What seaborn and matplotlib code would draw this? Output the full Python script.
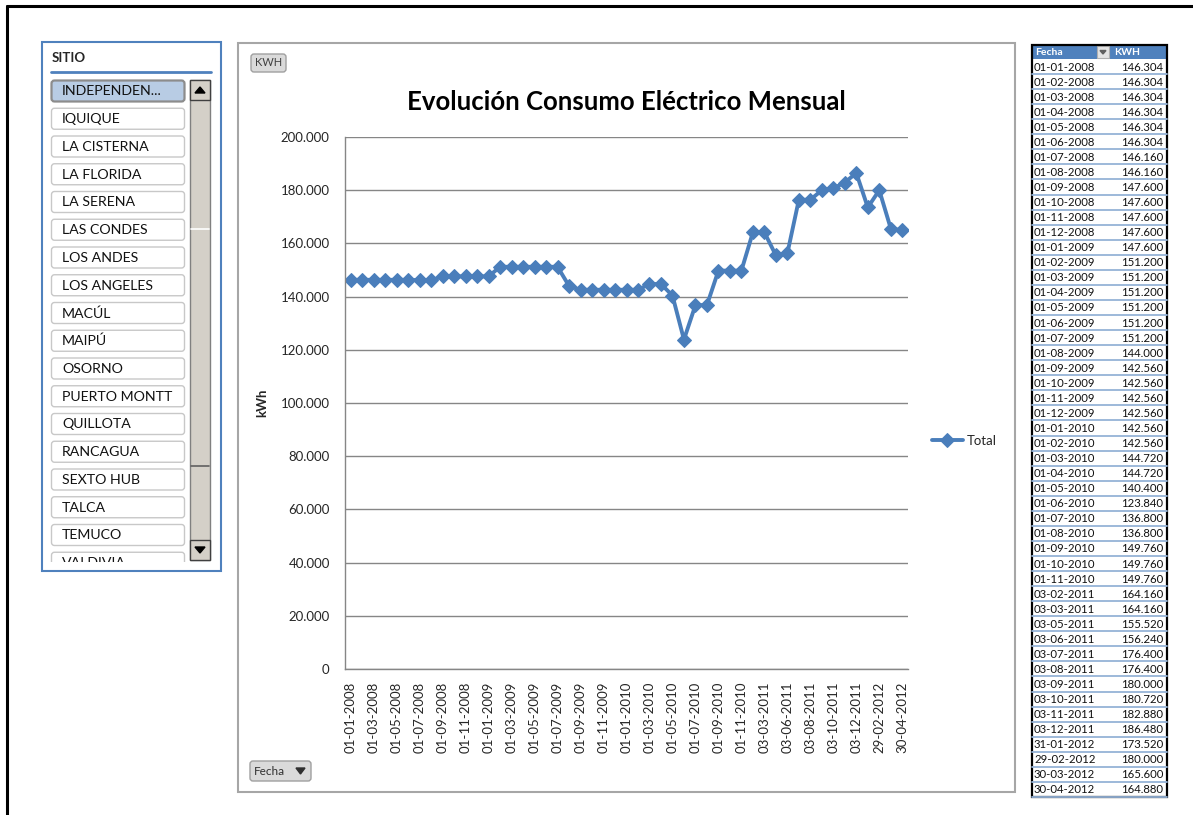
import numpy as np
import pandas as pd
import matplotlib
matplotlib.use("Agg")
import matplotlib.pyplot as plt
from matplotlib.patches import Rectangle, FancyBboxPatch, Polygon
from matplotlib.ticker import FuncFormatter, FixedLocator
import seaborn as sns

# ---- data -------------------------------------------------------------
fechas = [
    "01-01-2008", "01-02-2008", "01-03-2008", "01-04-2008", "01-05-2008", "01-06-2008",
    "01-07-2008", "01-08-2008", "01-09-2008", "01-10-2008", "01-11-2008", "01-12-2008",
    "01-01-2009", "01-02-2009", "01-03-2009", "01-04-2009", "01-05-2009", "01-06-2009",
    "01-07-2009", "01-08-2009", "01-09-2009", "01-10-2009", "01-11-2009", "01-12-2009",
    "01-01-2010", "01-02-2010", "01-03-2010", "01-04-2010", "01-05-2010", "01-06-2010",
    "01-07-2010", "01-08-2010", "01-09-2010", "01-10-2010", "01-11-2010",
    "03-02-2011", "03-03-2011", "03-05-2011", "03-06-2011", "03-07-2011", "03-08-2011",
    "03-09-2011", "03-10-2011", "03-11-2011", "03-12-2011",
    "31-01-2012", "29-02-2012", "30-03-2012", "30-04-2012",
]
kwh = [
    146304, 146304, 146304, 146304, 146304, 146304,
    146160, 146160, 147600, 147600, 147600, 147600,
    147600, 151200, 151200, 151200, 151200, 151200,
    151200, 144000, 142560, 142560, 142560, 142560,
    142560, 142560, 144720, 144720, 140400, 123840,
    136800, 136800, 149760, 149760, 149760,
    164160, 164160, 155520, 156240, 176400, 176400,
    180000, 180720, 182880, 186480,
    173520, 180000, 165600, 164880,
]
sitios = [
    "INDEPENDEN...", "IQUIQUE", "LA CISTERNA", "LA FLORIDA", "LA SERENA",
    "LAS CONDES", "LOS ANDES", "LOS ANGELES", "MACÚL", "MAIPÚ", "OSORNO",
    "PUERTO MONTT", "QUILLOTA", "RANCAGUA", "SEXTO HUB", "TALCA", "TEMUCO",
    "VALDIVIA",
]
titulo = "Evolución Consumo Eléctrico Mensual"

df = pd.DataFrame({"Fecha": fechas, "KWH": kwh})
df["pos"] = np.arange(len(df))

# ---- figure -----------------------------------------------------------
sns.set_theme(style="white")
plt.rcParams["font.family"] = ["Lato", "DejaVu Sans"]

W, H = 1193, 815
fig = plt.figure(figsize=(W / 100, H / 100), dpi=100)
fig.patch.set_facecolor("white")


def pixel_axes(x0, y0, x1, y1, z):
    """Axes covering a pixel box, with data units equal to figure pixels."""
    a = fig.add_axes([x0 / W, 1 - y1 / H, (x1 - x0) / W, (y1 - y0) / H], zorder=z)
    a.set_xlim(x0, x1)
    a.set_ylim(y1, y0)
    a.axis("off")
    a.patch.set_visible(False)
    return a


bg = pixel_axes(0, 0, W, H, 0)

# sheet frame
bg.plot([7, W], [6, 6], color="black", lw=2.2)
bg.plot([7, 7], [6, H], color="black", lw=2.2)

# ---- slicer "SITIO" -------------------------------------------------------
blue = "#4F81BD"
bg.add_patch(Rectangle((42, 42), 179, 529, facecolor="white", edgecolor=blue, lw=1.5))
bg.text(52, 58, "SITIO", fontsize=9.5, fontweight="bold", va="center", ha="left")
bg.plot([51, 211], [72, 72], color=blue, lw=2)

# list of items, clipped at the bottom of the visible window
sl = pixel_axes(44, 76, 219, 562, 1)
for i, name in enumerate(sitios):
    top = 80 + i * 27.75
    sel = i == 0
    box = FancyBboxPatch((51.5, top + 0.5), 133, 21,
                         boxstyle="round,pad=0,rounding_size=3",
                         facecolor="#B8CCE4" if sel else "white",
                         edgecolor="#8C8C8C" if sel else "#C8C8C8",
                         lw=1.6 if sel else 1.0, clip_on=True)
    sl.add_patch(box)
    sl.text(62, top + 11.5, name, fontsize=10.2, va="center", ha="left",
            color="#111111", clip_on=True)

# scrollbar
bg.add_patch(Rectangle((190, 80), 20, 480, facecolor="#D4D0C8", edgecolor="#808080", lw=1, zorder=3))
bg.plot([191, 209], [229, 229], color="white", lw=1.2, zorder=4)
bg.plot([191, 209], [466, 466], color="#606060", lw=1.2, zorder=4)
for ytop, up in [(80, True), (540, False)]:
    bg.add_patch(Rectangle((190, ytop), 20, 20, facecolor="#D4D0C8", edgecolor="#404040", lw=1, zorder=4))
    cy = ytop + 10
    if up:
        tri = [(195, cy + 3), (205, cy + 3), (200, cy - 3)]
    else:
        tri = [(195, cy - 3), (205, cy - 3), (200, cy + 3)]
    bg.add_patch(Polygon(tri, closed=True, facecolor="black", edgecolor="black", zorder=5))

# ---- chart area -------------------------------------------------------
bg.add_patch(Rectangle((238, 43), 777, 749, facecolor="white", edgecolor="#A6A6A6", lw=1.5))
bg.add_patch(FancyBboxPatch((251, 54), 35, 18, boxstyle="round,pad=0,rounding_size=3",
                            facecolor="#DADADA", edgecolor="#A0A0A0", lw=1))
bg.text(268.5, 63, "KWH", fontsize=8, color="#404040", ha="center", va="center")
bg.add_patch(FancyBboxPatch((250, 761), 61, 20, boxstyle="round,pad=0,rounding_size=3",
                            facecolor="#DADADA", edgecolor="#A0A0A0", lw=1))
bg.text(254, 771.5, "Fecha", fontsize=8.5, color="#303030", ha="left", va="center")
bg.add_patch(Polygon([(296, 768), (305, 768), (300.5, 774)], closed=True,
                     facecolor="#303030", edgecolor="#303030"))
bg.text(626, 102, titulo, fontsize=18.5, fontweight="bold", color="black",
        ha="center", va="center")

# ---- line chart -------------------------------------------------------
x0, x1, ytop, ybot = 345, 908, 137, 669
ax = fig.add_axes([x0 / W, 1 - ybot / H, (x1 - x0) / W, (ybot - ytop) / H], zorder=2)
ax.set_facecolor("none")
line_col = "#4A7EBB"
sns.lineplot(data=df, x="pos", y="KWH", ax=ax, color=line_col, lw=2.8,
             marker="D", markersize=7, markeredgecolor=line_col, label="Total")
ax.set_xlim(-0.5, len(df) - 0.5)
ax.set_ylim(0, 200000)
ax.yaxis.set_major_locator(FixedLocator(np.arange(0, 200001, 20000)))
ax.yaxis.set_major_formatter(FuncFormatter(
    lambda v, p: "0" if v == 0 else f"{v:,.0f}".replace(",", ".")))
ax.grid(axis="y", color="#868686", lw=1)
ax.grid(axis="x", visible=False)
ax.set_axisbelow(True)

lab_pos = df["pos"].iloc[::2].to_numpy()
ax.set_xticks(lab_pos)
ax.set_xticklabels(df["Fecha"].iloc[::2], rotation=90, fontsize=9.5)
ax.set_xticks(np.arange(-0.5, len(df)), minor=True)
ax.tick_params(axis="x", which="major", length=0, pad=9)
ax.tick_params(axis="x", which="minor", length=5, color="#868686", width=1, direction="out")
ax.tick_params(axis="y", which="major", length=5, color="#868686", width=1,
               direction="out", labelsize=9.5, pad=6)
for s in ["top", "right"]:
    ax.spines[s].set_visible(False)
for s in ["left", "bottom"]:
    ax.spines[s].set_color("#868686")
    ax.spines[s].set_linewidth(1)
ax.set_xlabel("")
ax.set_ylabel("kWh", fontsize=9.5, fontweight="bold")
ax.yaxis.set_label_coords((268 - x0) / (x1 - x0), 0.5)
ax.legend(loc="center left", bbox_to_anchor=(925 / W, 1 - 441 / H),
          bbox_transform=fig.transFigure, frameon=False, fontsize=9.5,
          handlelength=2.4, handletextpad=0.3, borderpad=0)

# ---- pivot table ------------------------------------------------------
tx0, tx1, tdiv = 1032, 1167, 1111
hy0, hy1 = 45, 59
bg.add_patch(Rectangle((tx0, hy0), tx1 - tx0, hy1 - hy0, facecolor=blue, edgecolor="none"))
bg.text(tx0 + 3, (hy0 + hy1) / 2 + 0.5, "Fecha", fontsize=7.5, fontweight="bold",
        color="white", va="center", ha="left")
bg.text(tdiv + 3, (hy0 + hy1) / 2 + 0.5, "KWH", fontsize=7.5, fontweight="bold",
        color="white", va="center", ha="left")
bg.add_patch(Rectangle((1097, 46), 12, 12, facecolor="#E4E4E4", edgecolor="#B0B0B0", lw=0.8))
bg.add_patch(Polygon([(1100, 50.5), (1106, 50.5), (1103, 54)], closed=True,
                     facecolor="#606060", edgecolor="#606060"))

row_h = 15.06
for i, (f, v) in enumerate(zip(df["Fecha"], df["KWH"])):
    r0 = hy1 + i * row_h
    bg.text(tx0 + 2, r0 + row_h / 2 + 0.5, f, fontsize=8.2, va="center", ha="left", color="#111111")
    bg.text(tx1 - 4, r0 + row_h / 2 + 0.5, f"{v:,.0f}".replace(",", "."), fontsize=8.2,
            va="center", ha="right", color="#111111")
    bg.plot([tx0, tx1], [r0 + row_h, r0 + row_h], color="#95B3D7", lw=1.3)
tbot = hy1 + len(df) * row_h
bg.add_patch(Rectangle((tx0, hy0), tx1 - tx0, tbot - hy0, facecolor="none",
                       edgecolor="black", lw=1.6))

fig.savefig("out.png", dpi=100, facecolor="white")
